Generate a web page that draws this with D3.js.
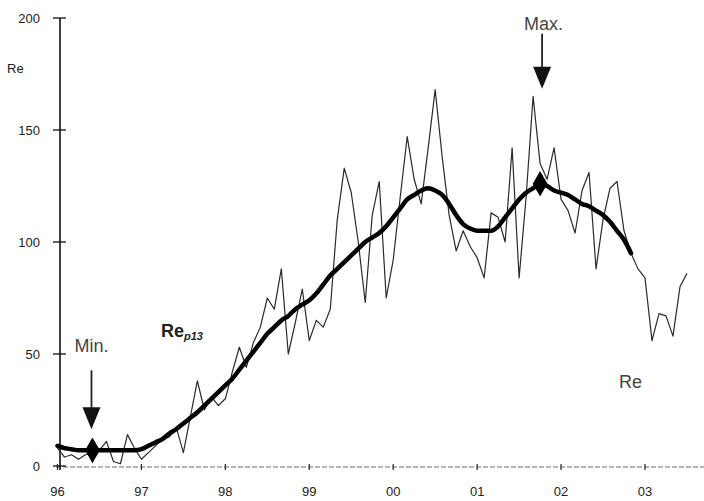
<!DOCTYPE html>
<html>
<head>
<meta charset="utf-8">
<script src="https://cdnjs.cloudflare.com/ajax/libs/d3/7.8.5/d3.min.js"></script>
<style>
  body { margin: 0; background: #fff; }
  svg text { font-family: "Liberation Sans Narrow", "Arial Narrow", "Liberation Sans", Arial, sans-serif; }
</style>
</head>
<body>
<div class="chart"></div>
<script>
var width = 704,
    height = 501;

// monthly values, starting Jan 1996
var startYear = 1996;
var reMonthly = [
    8, 4, 5, 3, 5, 6, 7, 11, 2, 1, 14, 8,
    3, 6, 9, 12, 13, 17, 6, 22, 38, 25, 31, 27,
    30, 42, 53, 44, 55, 62, 75, 70, 88, 50, 64, 79,
    56, 65, 62, 70, 110, 133, 122, 100, 73, 112, 127, 75,
    92, 120, 147, 128, 117, 142, 168, 138, 112, 96, 105, 98,
    93, 84, 113, 111, 100, 142, 84, 120, 165, 135, 128, 142,
    119, 114, 104, 123, 131, 88, 110, 124, 127, 105, 95, 88,
    84, 56, 68, 67, 58, 80, 86
];
// 13-month smoothed values
var reP13 = [
    9, 8, 7.5, 7, 7, 7, 7, 7, 7, 7, 7, 7,
    7.5, 9, 10.5, 12, 14.5, 16.5, 19, 21.5, 24, 27, 30, 33,
    36, 39, 43, 47, 51, 55, 59, 62, 65, 67, 70, 72,
    74, 77, 81, 85, 88, 91, 94, 97, 100, 102, 104, 107,
    111, 115, 119, 121, 123, 124, 123, 121, 117, 112, 108, 106,
    105, 105, 105, 107, 111, 115, 119, 122, 124, 126, 125, 123,
    122, 121, 119, 117, 116, 114, 112, 109, 105, 101, 95
];
var yearTicks = [1996, 1997, 1998, 1999, 2000, 2001, 2002, 2003];
var yearLabels = ["96", "97", "98", "99", "00", "01", "02", "03"];
var yTicks = [0, 50, 100, 150, 200];
var minIndex = 5,
    maxIndex = 69;

var x = d3.scaleLinear()
    .domain([1996, 2003])
    .range([57.5, 645]);

var y = d3.scaleLinear()
    .domain([0, 200])
    .range([466, 18]);

function monthX(d, i) { return x(startYear + i / 12); }

var svg = d3.select(".chart").append("svg")
    .attr("width", width)
    .attr("height", height);

// x axis (faint dotted scan line)
svg.append("line")
    .attr("x1", 56).attr("x2", 704)
    .attr("y1", y(0) + 1).attr("y2", y(0) + 1)
    .attr("stroke", "#9a9a9a")
    .attr("stroke-width", 1.3)
    .attr("stroke-dasharray", "5,2");

svg.selectAll(".xtick")
    .data(yearTicks)
    .enter().append("line")
    .attr("class", "xtick")
    .attr("x1", function(d) { return x(d); })
    .attr("x2", function(d) { return x(d); })
    .attr("y1", y(0) - 2)
    .attr("y2", y(0) + 4)
    .attr("stroke", "#333")
    .attr("stroke-width", 1.3);

svg.selectAll(".xlabel")
    .data(yearTicks)
    .enter().append("text")
    .attr("class", "xlabel")
    .attr("x", function(d) { return x(d); })
    .attr("y", 496)
    .attr("text-anchor", "middle")
    .style("font-size", "13px")
    .style("fill", "#222")
    .text(function(d, i) { return yearLabels[i]; });

// y axis
svg.append("line")
    .attr("x1", 60).attr("x2", 60)
    .attr("y1", y(200)).attr("y2", y(0) + 4)
    .attr("stroke", "#111")
    .attr("stroke-width", 1.6);

svg.selectAll(".ytick")
    .data(yTicks)
    .enter().append("line")
    .attr("class", "ytick")
    .attr("x1", 53).attr("x2", 66)
    .attr("y1", function(d) { return y(d); })
    .attr("y2", function(d) { return y(d); })
    .attr("stroke", "#111")
    .attr("stroke-width", 1.3);

svg.selectAll(".ylabel")
    .data(yTicks)
    .enter().append("text")
    .attr("class", "ylabel")
    .attr("x", 40)
    .attr("y", function(d) { return y(d); })
    .attr("dy", "0.36em")
    .attr("text-anchor", "end")
    .style("font-size", "13px")
    .style("fill", "#222")
    .text(function(d) { return d; });

svg.append("text")
    .attr("x", 7)
    .attr("y", 73)
    .style("font-size", "13px")
    .style("fill", "#222")
    .text("Re");

// monthly Re
var line = d3.line()
    .x(monthX)
    .y(function(d) { return y(d); });

svg.append("path")
    .datum(reMonthly)
    .attr("fill", "none")
    .attr("stroke", "#2a2a2a")
    .attr("stroke-width", 1.2)
    .attr("stroke-linejoin", "round")
    .attr("d", line);

// smoothed Re
svg.append("path")
    .datum(reP13)
    .attr("fill", "none")
    .attr("stroke", "#000")
    .attr("stroke-width", 4.5)
    .attr("stroke-linejoin", "round")
    .attr("stroke-linecap", "round")
    .attr("d", d3.line().x(monthX).y(function(d) { return y(d); }).curve(d3.curveMonotoneX));

// min / max markers
var extremes = [
    { i: minIndex, label: "Min.", lx: -18, ly: -98, top: -80, head: -42 },
    { i: maxIndex, label: "Max.", lx: -16, ly: -154, top: -150, head: -116 }
];

extremes.forEach(function(e) {
    var px = monthX(null, e.i),
        py = y(reP13[e.i]);

    svg.append("path")
        .attr("d", d3.symbol().type(d3.symbolDiamond).size(190)())
        .attr("transform", "translate(" + px + "," + py + ")")
        .attr("fill", "#000");

    var ax = e.i === minIndex ? px - 1 : px + 2;
    svg.append("line")
        .attr("x1", ax).attr("x2", ax)
        .attr("y1", py + e.top).attr("y2", py + e.head)
        .attr("stroke", "#222")
        .attr("stroke-width", 1.8);

    svg.append("path")
        .attr("d", "M" + (ax - 9) + "," + (py + e.head - 1) +
            "L" + (ax + 9) + "," + (py + e.head - 1) +
            "L" + ax + "," + (py + e.head + 21) + "Z")
        .attr("fill", "#111");

    svg.append("text")
        .attr("x", px + e.lx)
        .attr("y", py + e.ly)
        .style("font-family", "'Liberation Sans', Arial, sans-serif")
        .style("font-size", "18px")
        .style("fill", "#444")
        .text(e.label);
});

// series labels
var p13Label = svg.append("text")
    .attr("x", 161)
    .attr("y", 337)
    .style("font-family", "'Liberation Sans', Arial, sans-serif")
    .style("font-weight", "bold")
    .style("font-size", "18px")
    .style("fill", "#222")
    .text("Re");
p13Label.append("tspan")
    .attr("dy", 3)
    .style("font-size", "11px")
    .style("font-style", "italic")
    .text("p13");

svg.append("text")
    .attr("x", 619)
    .attr("y", 388)
    .style("font-family", "'Liberation Sans', Arial, sans-serif")
    .style("font-size", "18px")
    .style("fill", "#444")
    .text("Re");
</script>
</body>
</html>
